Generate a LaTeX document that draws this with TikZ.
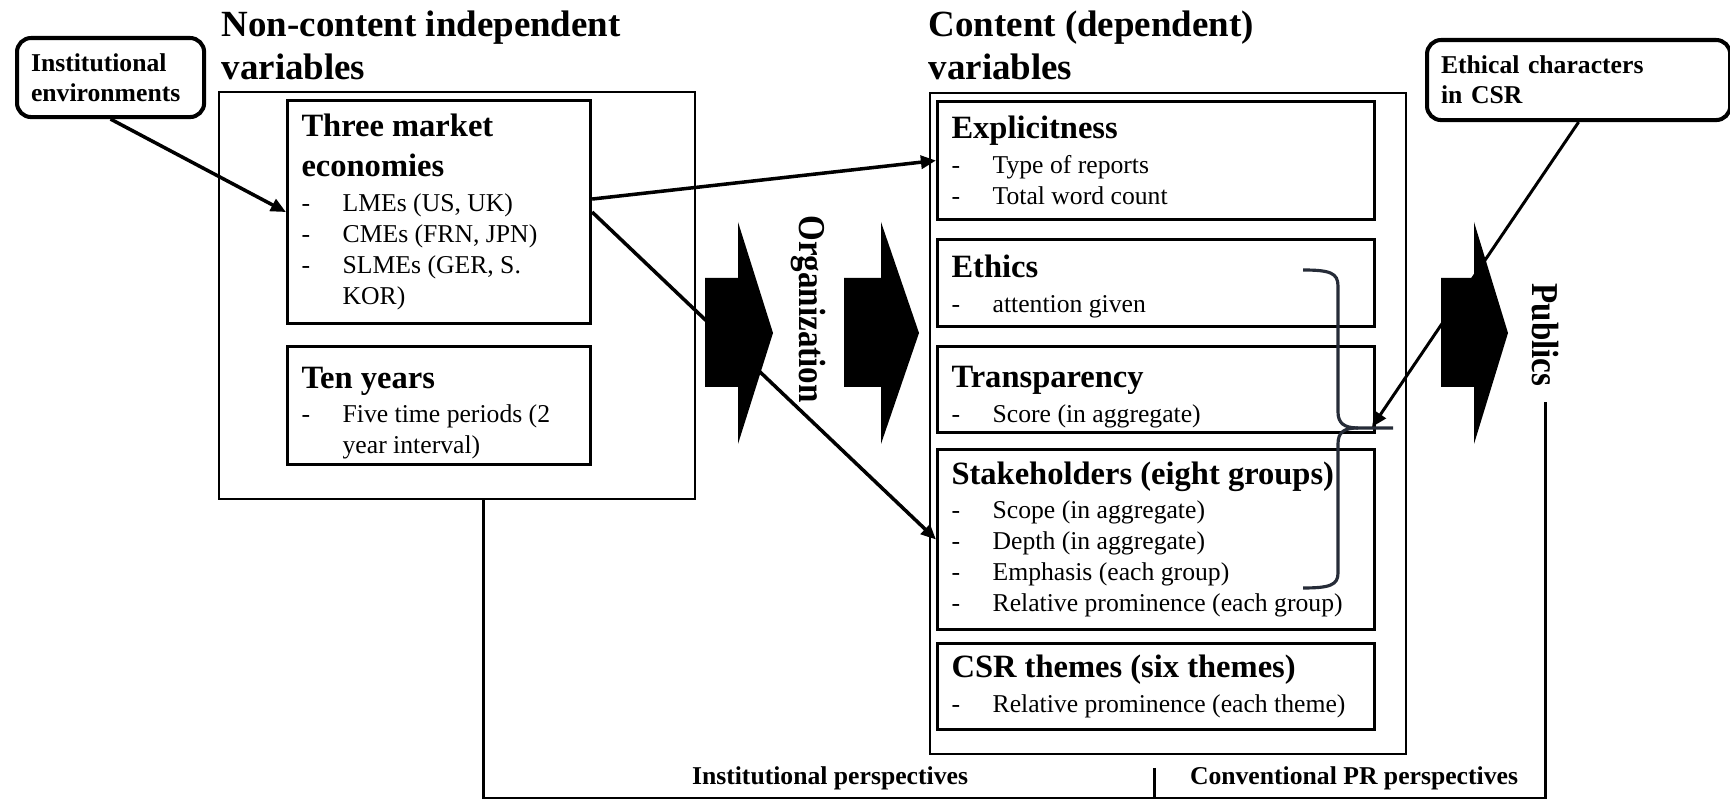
\documentclass[tikz,border=0pt]{standalone}
\usepackage{fontspec}
\setmainfont{Liberation Serif}
\newfontfamily\rotfont{Liberation Serif}[FakeStretch=0.87]
\usetikzlibrary{arrows.meta}
\definecolor{bracecolor}{RGB}{38,44,56}
\setlength{\parindent}{0pt}
\setlength{\parskip}{0pt}

\newcommand{\nospaceskip}{\spaceskip=0pt\xspaceskip=0pt\relax}
\newcommand{\headfont}{\fontsize{10.5pt}{12.2pt}\selectfont\bfseries\nospaceskip}
\newcommand{\ttlfont}{\fontsize{9.25pt}{11.4pt}\selectfont\bfseries\nospaceskip}
\newcommand{\itmfont}{\fontsize{7.3pt}{8.8pt}\selectfont\nospaceskip}
\newcommand{\smallbold}{\fontsize{7.3pt}{8.5pt}\selectfont\bfseries\nospaceskip}
\newcommand{\itm}[1]{\makebox[11.7pt][l]{-}\mbox{#1}}
\newcommand{\cont}[1]{\hspace*{11.7pt}\mbox{#1}}

\begin{document}
\begin{tikzpicture}[
    x=0.01cm, y=-0.01cm,
    outerbox/.style={draw, line width=0.6pt, anchor=north west, inner sep=0pt},
    varbox/.style={draw, line width=0.85pt, anchor=north west, inner xsep=0.14cm, inner ysep=0pt, align=left},
    roundbox/.style={draw, line width=1.15pt, rounded corners=4pt, anchor=north west, inner xsep=0.14cm, inner ysep=0pt, align=left, font=\smallbold},
    heading/.style={anchor=north west, inner sep=0pt, align=left, font=\headfont},
    sidelabel/.style={inner sep=0pt, rotate=-90, font=\fontsize{10.8pt}{13pt}\rotfont\bfseries},
    persp/.style={anchor=base, inner sep=0pt, font=\smallbold},
    arrow/.style={-{Triangle[length=4.3pt, width=3.7pt]}, line width=1pt},
    line/.style={line width=0.85pt},
    brace/.style={line width=0.9pt, draw=bracecolor},
]
\useasboundingbox (0,0) rectangle (1730,801);

% Headings
\node[heading] (noncontttl) at (221,10) {Non-content independent\\variables};
\node[heading] (contentttl) at (928,10) {Content (dependent)\\variables};

% Outside influences
\node[roundbox, text width=1.59cm, minimum height=0.79cm] (instenv) at (15,36) {Institutional\\environments};
\node[roundbox, text width=2.75cm, minimum height=0.80cm] (ethchar) at (1425,38) {Ethical characters\\in CSR};

% Non-content variables
\node[outerbox, minimum width=4.76cm, minimum height=4.07cm] (noncont) at (218,91) {};

\node[varbox, text width=2.75cm, minimum height=2.23cm] (market) at (286,99) {
    {\ttlfont Three market\\economies\par}
    \vspace{1pt}
    {\itmfont \itm{LMEs (US, UK)}\\
     \itm{CMEs (FRN, JPN)}\\
     \itm{SLMEs (GER, S.}\\
     \cont{KOR)}\par}
};

\node[varbox, text width=2.75cm, minimum height=1.18cm] (tenyrs) at (286,345) {
    {\ttlfont\rule{0pt}{10.3pt}Ten years\par}
    \vspace{1pt}
    {\itmfont \itm{Five time periods (2}\\
     \cont{year interval)}\par}
};

% Content variables
\node[outerbox, minimum width=4.76cm, minimum height=6.61cm] (content) at (929,92) {};

\node[varbox, text width=4.09cm, minimum height=1.18cm] (explicit) at (936,100) {
    {\ttlfont Explicitness\par}
    \vspace{1pt}
    {\itmfont \itm{Type of reports}\\
     \itm{Total word count}\par}
};

\node[varbox, text width=4.09cm, minimum height=0.87cm] (ethics) at (936,238) {
    {\ttlfont\rule{0pt}{8.3pt}Ethics\par}
    \vspace{1pt}
    {\itmfont \itm{attention given}\par}
};

\node[varbox, text width=4.09cm, minimum height=0.86cm] (transp) at (936,345) {
    {\ttlfont\rule{0pt}{10.3pt}Transparency\par}
    \vspace{1pt}
    {\itmfont \itm{Score (in aggregate)}\par}
};

\node[varbox, text width=4.09cm, minimum height=1.80cm] (stake) at (936,448) {
    {\ttlfont \mbox{Stakeholders (eight groups)}\par}
    \vspace{1pt}
    {\itmfont \itm{Scope (in aggregate)}\\
     \itm{Depth (in aggregate)}\\
     \itm{Emphasis (each group)}\\
     \itm{Relative prominence (each group)}\par}
};

\node[varbox, text width=4.09cm, minimum height=0.86cm] (csr) at (936,642) {
    {\ttlfont CSR themes (six themes)\par}
    \vspace{1pt}
    {\itmfont \itm{Relative prominence (each theme)}\par}
};

% Block arrows
\foreach \tx/\hb/\tp in {705/738/773, 844/881/919, 1441/1474/1508} {
    \fill (\tx,278) -- (\hb,278) -- (\hb,222) -- (\tp,333) -- (\hb,444) -- (\hb,387) -- (\tx,387) -- cycle;
}
\node[sidelabel] (org) at (808,309) {Organization};
\node[sidelabel] (publics) at (1545,335) {Publics};

% Brace over ethics, transparency and stakeholders
\coordinate (bracetip) at (1372,427);
\draw[brace] (1303,270) .. controls (1330,270) and (1338,273) .. (1338,286) -- (1338,412)
    .. controls (1338,423) and (1344,428) .. (1358,428) -- (1393,428);
\draw[brace] (1358,428) .. controls (1344,428) and (1338,432) .. (1338,444) -- (1338,573)
    .. controls (1338,585) and (1330,588) .. (1303,588);

% Connectors
\draw[arrow] (instenv.south) -- (market.west);
\draw[arrow] ([yshift=3.7pt]market.east) -- (explicit.west);
\draw[arrow] (market.east) -- (stake.west);
\draw[arrow, line width=0.85pt] (ethchar.south) -- (bracetip);

% Perspectives
\coordinate (pl) at (483,798);
\coordinate (divtop) at (1154,768);
\draw[line] (noncont.south -| pl) -- (pl) -| ([yshift=-4.3pt]publics.east);
\draw[line] (divtop) -- (divtop |- pl);
\node[persp] (instpersp) at (830,785) {Institutional perspectives};
\node[persp] (convpersp) at (1354,785) {Conventional PR perspectives};

\end{tikzpicture}
\end{document}
